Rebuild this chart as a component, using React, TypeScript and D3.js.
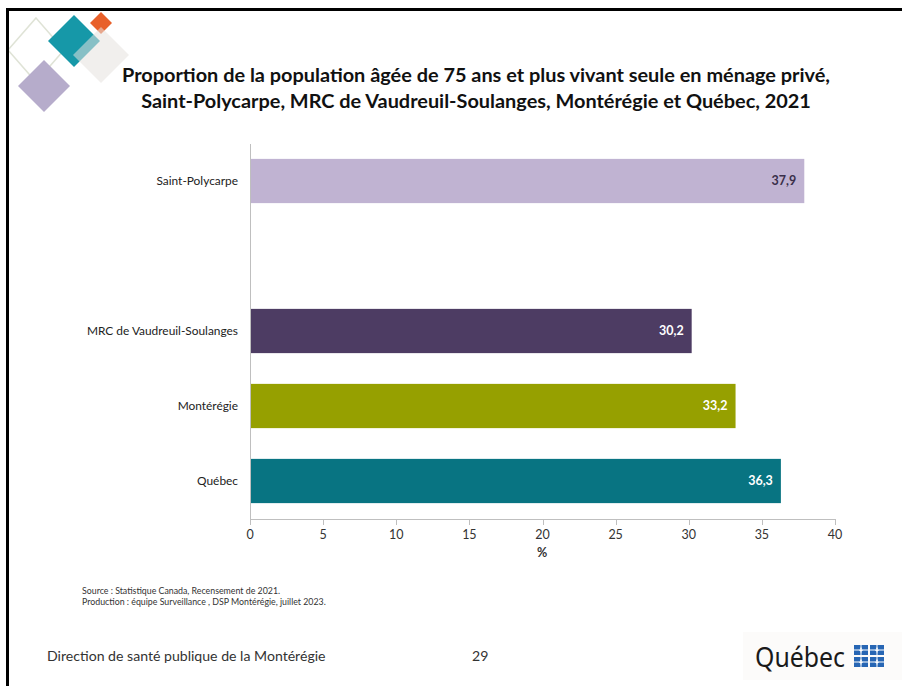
import React from "react";
import * as d3 from "d3";

const categories = ["Saint-Polycarpe", "", "MRC de Vaudreuil-Soulanges", "Montérégie", "Québec"];
const values: (number | null)[] = [37.9, null, 30.2, 33.2, 36.3];
const barColors = ["#c0b3d2", "none", "#4d3c63", "#96a000", "#087482"];
const labelColors = ["#3a2f4a", "none", "#ffffff", "#ffffff", "#ffffff"];
const ticks = [0, 5, 10, 15, 20, 25, 30, 35, 40];
const titleLines = [
  "Proportion de la population âgée de 75 ans et plus vivant seule en ménage privé,",
  "Saint-Polycarpe, MRC de Vaudreuil-Soulanges, Montérégie et Québec, 2021",
];
const sourceLines = [
  "Source : Statistique Canada, Recensement de 2021.",
  "Production : équipe Surveillance , DSP Montérégie, juillet 2023.",
];

const W = 902, H = 686;
const font = "Lato, 'Open Sans', sans-serif";

function Flag({ x, y }: { x: number; y: number }) {
  return (
    <g transform={`translate(${x},${y})`}>
      <rect width={14} height={10} fill="#2766b4" />
      <rect x={6.5} y={0} width={1} height={10} fill="#fff" />
      <rect x={0} y={4.5} width={14} height={1} fill="#fff" />
      <path d="M7,2 C5.9,3.3 5.9,4.3 7,5.3 C8.1,4.3 8.1,3.3 7,2 Z M4.8,4.2 C5,5.6 6,6.2 7,6 C8,6.2 9,5.6 9.2,4.2 C8.5,5 7.7,5 7,5 C6.3,5 5.5,5 4.8,4.2 Z M6,6.4 H8 V7.2 H6 Z" fill="#fff" />
    </g>
  );
}

export default function App() {
  const x = d3.scaleLinear().domain([0, 40]).range([250, 835]);
  const y = d3.scaleBand().domain(categories.map((c, i) => String(i))).range([143.5, 518.5]).paddingInner(0.41).paddingOuter(0.205);
  const fmt = (v: number) => v.toFixed(1).replace(".", ",");
  return (
    <svg width={W} height={H} style={{ position: "absolute", left: 0, top: 0, background: "#fff" }} fontFamily={font}>
      <rect x={0} y={0} width={W} height={H} fill="#fff" />
      {/* logo diamonds */}
      <g>
        <polygon points="36,18 64,50 36,82 8,50" fill="none" stroke="#dfe3d6" strokeWidth={1.5} />
        <polygon points="74,15 100,41 74,67 48,41" fill="#1698a8" />
        <polygon points="101,12 112,23 101,34 90,23" fill="#e8602a" />
        <polygon points="101,27 129,55 101,83 73,55" fill="#e6e2de" opacity={0.55} />
        <polygon points="44,60 70,86 44,112 18,86" fill="#b6accb" />
      </g>
      {/* page border */}
      <path d={`M7.5,${H} V9.5 H${W}`} fill="none" stroke="#000" strokeWidth={3} />
      {/* title */}
      {titleLines.map((t, i) => (
        <text key={i} x={476} y={82 + i * 26} textAnchor="middle" fontSize={19.9} fontWeight={700} fill="#111">{t}</text>
      ))}
      {/* bars */}
      {values.map((v, i) => v == null ? null : (
        <g key={i}>
          <rect x={x(0)} y={y(String(i))!} width={x(v) - x(0)} height={y.bandwidth()} fill={barColors[i]} />
          <text x={x(v) - 8} y={y(String(i))! + y.bandwidth() / 2} dy="0.35em" textAnchor="end" fontSize={12.5} fontWeight={700} fill={labelColors[i]}>{fmt(v)}</text>
          <text x={238} y={y(String(i))! + y.bandwidth() / 2} dy="0.35em" textAnchor="end" fontSize={11.9} fill="#222">{categories[i]}</text>
        </g>
      ))}
      {/* axes */}
      <line x1={250.5} x2={250.5} y1={144} y2={520} stroke="#bfbfbf" />
      <line x1={250} x2={835.5} y1={519.5} y2={519.5} stroke="#bfbfbf" />
      {ticks.map(t => (
        <g key={t}>
          <line x1={Math.round(x(t)) + 0.5} x2={Math.round(x(t)) + 0.5} y1={519} y2={525} stroke="#bfbfbf" />
          <text x={x(t)} y={539} textAnchor="middle" fontSize={12.5} fill="#333">{t}</text>
        </g>
      ))}
      <text x={542} y={557} textAnchor="middle" fontSize={12.5} fontWeight={700} fill="#333">%</text>
      {/* source */}
      {sourceLines.map((s, i) => (
        <text key={i} x={82} y={594 + i * 11} fontSize={8.8} fill="#333">{s}</text>
      ))}
      {/* footer */}
      <text x={47} y={661} fontSize={14.1} fill="#333">Direction de santé publique de la Montérégie</text>
      <text x={472} y={661} fontSize={14.1} fill="#333">29</text>
      {/* Québec logo */}
      <rect x={743} y={632} width={159} height={48} fill="#fcfbfa" />
      <text x={755} y={667} fontSize={27} textLength={90} lengthAdjust="spacingAndGlyphs" fontFamily="'Noto Sans', sans-serif" fill="#1a1a1a">Québec</text>
      <Flag x={854} y={645} />
      <Flag x={870} y={645} />
      <Flag x={854} y={657} />
      <Flag x={870} y={657} />
    </svg>
  );
}
